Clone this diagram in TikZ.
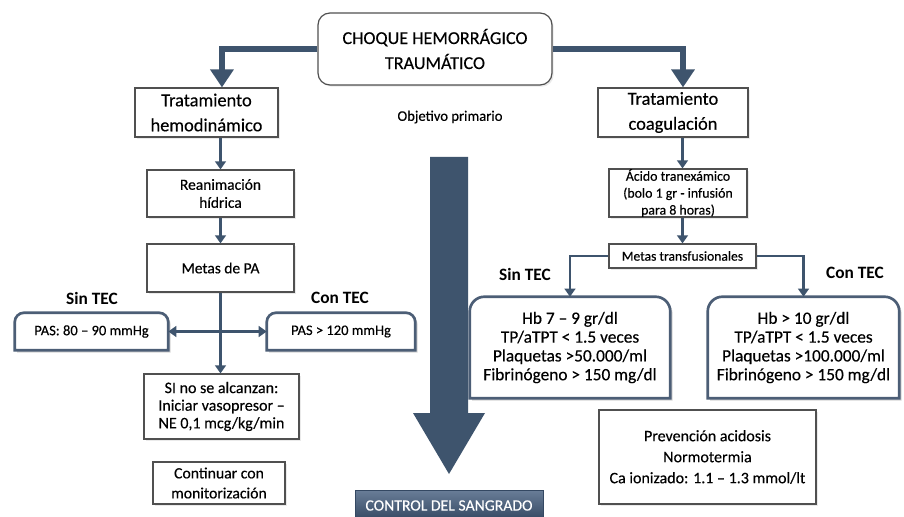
\documentclass[tikz,border=0pt]{standalone}
\usepackage{fontspec}
\setmainfont{Carlito}[UprightFeatures={FakeBold=0.3}]
\usetikzlibrary{arrows.meta,shadows}
\definecolor{slate}{RGB}{62,84,109}
\definecolor{rimgray}{RGB}{80,80,80}
\definecolor{rimblue}{RGB}{76,94,118}
\definecolor{barTop}{RGB}{104,124,150}
\definecolor{barBot}{RGB}{52,72,98}

% border of a box whose top corners are rounded and bottom corners square
\newcommand\roundtopbox[2]{%
  \fill[black,opacity=0.16,transform canvas={shift={(1.8pt,-1.8pt)}}]
    (#1.south west) {[rounded corners=#2] -- (#1.north west) -- (#1.north east)} -- (#1.south east) -- cycle;
  \draw[rimblue,line width=2pt,fill=white]
    (#1.south west) {[rounded corners=#2] -- (#1.north west) -- (#1.north east)} -- (#1.south east) -- cycle;}

\begin{document}
\begin{tikzpicture}[x=0.75pt,y=-0.75pt,
  every node/.style={inner sep=0pt},
  plainbox/.style={draw=rimgray,line width=0.9pt,fill=white,align=center,
    drop shadow={opacity=0.16,shadow xshift=1.3pt,shadow yshift=-1.3pt}},
  textonly/.style={align=center},
  label/.style={font=\fontsize{13}{15}\selectfont\bfseries},
  conn/.style={draw=slate,line width=2pt,-{Triangle[width=8pt,length=6pt]}},
  twoway/.style={draw=slate,line width=2pt,{Triangle[width=8pt,length=6pt]}-{Triangle[width=8pt,length=6pt]}},
  heavyarrow/.style={draw=slate,line width=4.6pt,-{Triangle[width=17pt,length=13.5pt]}}]
\useasboundingbox (0,0) rectangle (904,517);
\fill[white] (0,0) rectangle (904,517);

% big central arrow
\fill[slate] (430,157) -- (468,157) -- (468,413) -- (485,413) -- (449,474)
  -- (413,413) -- (430,413) -- cycle;

% header and the two branches
\node[plainbox,rounded corners=9pt,minimum width=175.5pt,minimum height=54pt,
  font=\fontsize{13.6}{18.75}\selectfont] (top) at (435,49)
  {CHOQUE HEMORRÁGICO\\TRAUMÁTICO};
\node[plainbox,minimum width=107.25pt,minimum height=36.75pt,
  font=\fontsize{13.8}{18.75}\selectfont] (hemo) at (206.5,112.5)
  {Tratamiento\\hemodinámico};
\node[plainbox,minimum width=112.5pt,minimum height=36.75pt,
  font=\fontsize{13.8}{18.75}\selectfont] (coag) at (673,112.5)
  {Tratamiento\\coagulación};
\node[textonly,font=\fontsize{11}{13}\selectfont] (obj) at (450,117) {Objetivo primario};

% hemodynamic column
\node[plainbox,minimum width=110.25pt,minimum height=35.25pt,
  font=\fontsize{11.6}{13.5}\selectfont] (reanim) at (220.5,193.5)
  {Reanimación\\hídrica};
\node[plainbox,minimum width=110.25pt,minimum height=36pt,
  font=\fontsize{11.6}{13.5}\selectfont] (metasPA) at (220.5,268)
  {Metas de PA};
\node[label] (sinL) at (92,298) {Sin TEC};
\node[label] (conL) at (340,298) {Con TEC};
\node[minimum width=114.75pt,minimum height=27.75pt] (pasL) at (91.5,331.5) {};
\node[minimum width=111pt,minimum height=27.75pt] (pasR) at (341,331.5) {};
\roundtopbox{pasL}{7pt}
\roundtopbox{pasR}{7pt}
\node[font=\fontsize{10.9}{13}\selectfont] (pasLtext) at (pasL) {PAS: 80 – 90 mmHg};
\node[font=\fontsize{10.9}{13}\selectfont] (pasRtext) at (pasR) {PAS > 120 mmHg};
\node[plainbox,minimum width=116.25pt,minimum height=48.75pt,
  font=\fontsize{12}{13.2}\selectfont] (si) at (221.5,406.5)
  {SI no se alcanzan:\\Iniciar vasopresor –\\NE 0,1 mcg/kg/min};
\node[plainbox,minimum width=99pt,minimum height=31.5pt,
  font=\fontsize{11.8}{15}\selectfont] (cont) at (219,483)
  {Continuar con\\monitorización};

% coagulation column
\node[plainbox,minimum width=103.5pt,minimum height=36pt,
  font=\fontsize{10.4}{12.7}\selectfont] (acido) at (678,193)
  {Ácido tranexámico\\(bolo 1 gr - infusión\\para 8 horas)};
\node[plainbox,minimum width=110.25pt,minimum height=18pt,
  font=\fontsize{10.2}{12}\selectfont] (mt) at (682.5,256)
  {Metas transfusionales};
\node[label] (sinR) at (525,274) {Sin TEC};
\node[label] (conR) at (855,273) {Con TEC};
\node[minimum width=150pt,minimum height=75.75pt] (hbL) at (570,347.5) {};
\node[minimum width=143.25pt,minimum height=75.75pt] (hbR) at (803.5,347.5) {};
\roundtopbox{hbL}{11pt}
\roundtopbox{hbR}{11pt}
\node[align=center,font=\fontsize{13}{14.1}\selectfont] (hbLtext) at (hbL)
  {Hb 7 – 9 gr/dl\\TP/aTPT < 1.5 veces\\Plaquetas >50.000/ml\\Fibrinógeno > 150 mg/dl};
\node[align=center,font=\fontsize{13}{14.1}\selectfont] (hbRtext) at (hbR)
  {Hb > 10 gr/dl\\TP/aTPT < 1.5 veces\\Plaquetas >100.000/ml\\Fibrinógeno > 150 mg/dl};
\node[plainbox,minimum width=162.75pt,minimum height=70.5pt,
  font=\fontsize{12}{15.75}\selectfont] (prev) at (707.5,457)
  {Prevención acidosis\\Normotermia\\Ca ionizado: 1.1 – 1.3 mmol/lt};

% bottom banner
\node[top color=barTop,bottom color=barBot,draw=barBot,line width=0.6pt,
  minimum width=141pt,minimum height=22pt,text=white,
  font=\fontsize{11.8}{13}\selectfont] (ctrl) at (449,505.5) {CONTROL DEL SANGRADO};

% connectors
\draw[heavyarrow] (top.west) -| ([xshift=11.6pt]hemo.north);
\draw[heavyarrow] (top.east) -| ([xshift=7.5pt]coag.north);
\draw[conn] (hemo.south -| reanim.north) -- (reanim.north);
\draw[conn] (reanim.south) -- (metasPA.north);
\draw[conn] (metasPA.south) -- (metasPA.south |- si.north);
\draw[twoway] (pasL.east) -- (pasR.west);
\draw[conn] (coag.south -| mt.north) -- (acido.north -| mt.north);
\draw[conn] (acido.south -| mt.north) -- (mt.north);
\draw[conn] (mt.west) -| (hbL.north);
\draw[conn] (mt.east) -| (hbR.north);
\end{tikzpicture}
\end{document}
